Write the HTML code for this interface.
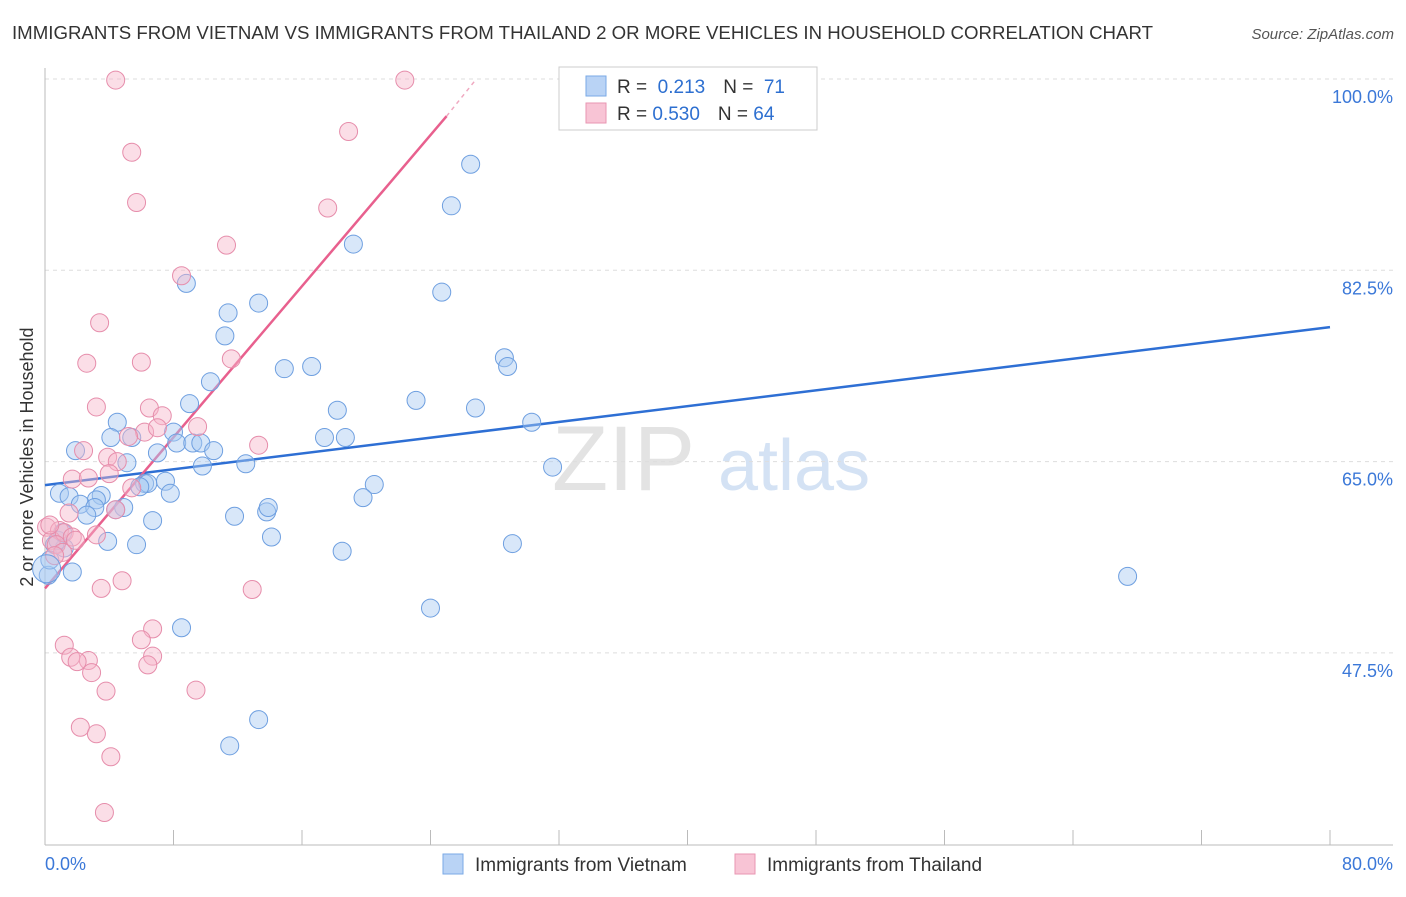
<!DOCTYPE html>
<html><head><meta charset="utf-8"><style>
body{margin:0;background:#fff;font-family:"Liberation Sans",sans-serif;}
svg text{font-family:"Liberation Sans",sans-serif;}
</style></head><body>
<svg id="chart" width="1406" height="892" viewBox="0 0 1406 892" xmlns="http://www.w3.org/2000/svg">
<text x="12" y="39" font-size="18" fill="#333" textLength="1141" lengthAdjust="spacingAndGlyphs">IMMIGRANTS FROM VIETNAM VS IMMIGRANTS FROM THAILAND 2 OR MORE VEHICLES IN HOUSEHOLD CORRELATION CHART</text>
<text x="1394" y="39" font-size="15" fill="#555" font-style="italic" text-anchor="end">Source: ZipAtlas.com</text>
<text transform="translate(33,457) rotate(-90)" font-size="18" fill="#333" text-anchor="middle">2 or more Vehicles in Household</text>
<g>
<text x="552" y="490" font-size="92" fill="#d8d8d8" font-family="Liberation Serif" opacity="0.7">ZIP</text>
<text x="718" y="490" font-size="72" fill="#b8d0ee" opacity="0.6">atlas</text>
</g>
<g id="grid"></g><g id="axes"></g><g id="trend"></g><g id="pts"></g>
<g>
<rect x="559" y="67" width="258" height="63" fill="#fff" stroke="#ccc"/>
<rect x="586" y="76" width="20" height="20" fill="#b9d3f5" stroke="#7aa9e6"/>
<rect x="586" y="103" width="20" height="20" fill="#f8c4d5" stroke="#e896b2"/>
<text x="617" y="93" font-size="19" fill="#333">R = <tspan fill="#2d6fd0">&#160;0.213</tspan><tspan dx="18" fill="#333">N = </tspan><tspan fill="#2d6fd0">&#160;71</tspan></text>
<text x="617" y="120" font-size="19" fill="#333">R = <tspan fill="#2d6fd0">0.530</tspan><tspan dx="18" fill="#333">N = </tspan><tspan fill="#2d6fd0">64</tspan></text>
</g>
<g>
<rect x="443" y="854" width="20" height="20" fill="#b9d3f5" stroke="#7aa9e6"/>
<text x="475" y="871" font-size="19" fill="#333">Immigrants from Vietnam</text>
<rect x="735" y="854" width="20" height="20" fill="#f8c4d5" stroke="#e896b2"/>
<text x="767" y="871" font-size="19" fill="#333">Immigrants from Thailand</text>
</g>
</svg>
<script>
const yTicks=[100,82.5,65,47.5];
const yTickLabels=["100.0%","82.5%","65.0%","47.5%"];
const xTicks=[0,8,16,24,32,40,48,56,64,72,80];
const xEndLabels=["0.0%","80.0%"];
const vietX=[26.5,25.3,19.2,8.8,24.7,13.3,11.4,11.2,28.6,28.8,14.9,16.6,10.3,9.0,23.1,18.2,26.8,30.3,4.5,8.0,4.1,5.4,17.4,18.7,1.9,7.0,8.2,9.2,9.7,10.5,5.1,9.8,12.5,31.6,6.2,6.4,7.5,5.9,7.8,20.5,0.9,1.5,3.5,3.2,2.2,3.1,4.9,19.8,4.4,2.6,6.7,11.8,13.8,13.9,5.7,3.9,14.1,18.5,29.1,1.2,0.6,1.7,67.4,24.0,8.5,13.3,11.5,0.2,0.3,0.8,1.1];
const vietY=[92.2,88.4,84.9,81.3,80.5,79.5,78.6,76.5,74.5,73.7,73.5,73.7,72.3,70.3,70.6,69.7,69.9,68.6,68.6,67.7,67.2,67.2,67.2,67.2,66.0,65.8,66.7,66.7,66.7,66.0,64.9,64.6,64.8,64.5,63.0,63.0,63.2,62.7,62.1,62.9,62.1,61.8,61.9,61.5,61.1,60.8,60.8,61.7,60.6,60.1,59.6,60.0,60.4,60.8,57.4,57.7,58.1,56.8,57.5,57.1,57.4,54.9,54.5,51.6,49.8,41.4,39.0,54.6,56.0,57.8,58.5];
const thaiX=[4.4,22.4,5.4,18.9,5.7,17.6,11.3,8.5,3.4,2.6,6.0,11.6,3.2,6.5,7.3,6.2,7.0,9.5,2.4,5.2,13.3,3.9,4.5,1.7,4.0,2.7,5.4,4.4,1.5,0.1,0.9,0.4,1.2,0.7,1.7,3.2,1.1,4.8,3.5,12.9,6.7,6.0,1.2,6.7,1.6,2.7,2.0,6.4,2.9,9.4,3.8,2.2,3.2,4.1,3.7,0.3,0.6,1.9];
const thaiY=[99.9,99.9,93.3,95.2,88.7,88.2,84.8,82.0,77.7,74.0,74.1,74.4,70.0,69.9,69.2,67.7,68.1,68.2,66.0,67.3,66.5,65.4,65.0,63.4,63.9,63.5,62.6,60.6,60.3,59.0,58.7,57.8,58.5,57.4,58.1,58.3,56.7,54.1,53.4,53.3,49.7,48.7,48.2,47.2,47.1,46.8,46.7,46.4,45.7,44.1,44.0,40.7,40.1,38.0,32.9,59.2,56.4,57.8];
const vietTrend=[[0,62.85],[80,77.3]];
const thaiTrend=[[0,53.4],[25,96.6]];
const thaiTrendExt=[[25,96.6],[26.8,99.9]];
const X=v=>45+v/80*1285, Y=v=>79+(100-v)/17.5*191.3;
const NS="http://www.w3.org/2000/svg";
function mk(parent,tag,attrs){const e=document.createElementNS(NS,tag);for(const k in attrs)e.setAttribute(k,attrs[k]);document.getElementById(parent).appendChild(e);return e;}
yTicks.forEach((t,i)=>{
 const l=mk('grid','line',{x1:45,x2:1393,y1:Y(t),y2:Y(t),stroke:'#ddd','stroke-dasharray':'4,4'});
 
 
 const tx=mk('axes','text',{x:1393,y:Y(t)+24,'font-size':18,fill:'#3b78d8','text-anchor':'end'});
 tx.textContent=yTickLabels[i];
 
 
});
const ax=mk('axes','line',{x1:45,x2:45,y1:68,y2:845,stroke:'#bbb'});


const bx=mk('axes','line',{x1:45,x2:1393,y1:845,y2:845,stroke:'#bbb'});


xTicks.forEach(t=>{
 const l=mk('axes','line',{x1:X(t),x2:X(t),y1:830,y2:845,stroke:'#bbb'});
 
 
});
const xl0=mk('axes','text',{x:45,y:870,'font-size':18,fill:'#3b78d8'});xl0.textContent=xEndLabels[0];


const xl1=mk('axes','text',{x:1393,y:870,'font-size':18,fill:'#3b78d8','text-anchor':'end'});xl1.textContent=xEndLabels[1];


function pts(xs,ys,fill,stroke,name){xs.forEach((x,i)=>{
 const c=mk('pts','circle',{cx:X(x),cy:Y(ys[i]),r:9,fill:fill,'fill-opacity':0.45,stroke:stroke,'stroke-width':1});
 
 
});}
pts(vietX,vietY,'#a9c9f2','#6e9fe0','vietnam-point');
pts(thaiX,thaiY,'#f6b5ca','#e68dab','thailand-point');
const bigV=mk('pts','circle',{cx:X(0.1),cy:Y(55.2),r:14,fill:'#a9c9f2','fill-opacity':0.45,stroke:'#6e9fe0'});


const t1=mk('trend','line',{x1:X(vietTrend[0][0]),y1:Y(vietTrend[0][1]),x2:X(vietTrend[1][0]),y2:Y(vietTrend[1][1]),stroke:'#2e6fd4','stroke-width':2.5});


const t2=mk('trend','line',{x1:X(thaiTrend[0][0]),y1:Y(thaiTrend[0][1]),x2:X(thaiTrend[1][0]),y2:Y(thaiTrend[1][1]),stroke:'#e8608e','stroke-width':2.5});


const t3=mk('trend','line',{x1:X(thaiTrendExt[0][0]),y1:Y(thaiTrendExt[0][1]),x2:X(thaiTrendExt[1][0]),y2:Y(thaiTrendExt[1][1]),stroke:'#f0a8c0','stroke-width':1.5,'stroke-dasharray':'4,4'});


</script>
</body></html>
